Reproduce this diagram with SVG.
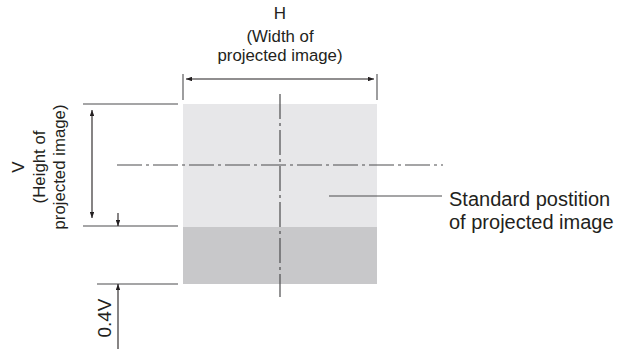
<svg xmlns="http://www.w3.org/2000/svg" width="629" height="349" viewBox="0 0 629 349">
<style>
text{font-family:"Liberation Sans",Arial,sans-serif;fill:#231f20}
.lbl{font-size:16.8px}
.big{font-size:17px}
.rl{font-size:20px}
.ext{stroke:#4d4d4f;stroke-width:1.1;fill:none}
.dim{stroke:#231f20;stroke-width:1.1;fill:none}
.cl{stroke:#4d4d4f;stroke-width:1.2;fill:none;stroke-dasharray:25 4 3 4}
</style>
<defs>
<marker id="ah" viewBox="0 0 8 6" refX="8" refY="3" markerWidth="7" markerHeight="4.5" markerUnits="userSpaceOnUse" orient="auto-start-reverse">
<path d="M0,0 L8,3 L0,6 Z" fill="#231f20"/>
</marker>
</defs>
<g id="image">
<rect x="183" y="104" width="194" height="123" fill="#e7e7e9"/>
<rect x="183" y="227" width="194" height="57" fill="#c8c8ca"/>
</g>
<g id="connectors">
<line class="cl" x1="280" y1="94" x2="280" y2="297"/>
<line class="cl" x1="117" y1="165" x2="443" y2="165"/>
<line class="ext" x1="183" y1="74" x2="183" y2="100"/>
<line class="ext" x1="377" y1="74" x2="377" y2="100"/>
<line class="dim" x1="186" y1="79" x2="374" y2="79" marker-start="url(#ah)" marker-end="url(#ah)"/>
<line class="ext" x1="83" y1="104" x2="178" y2="104"/>
<line class="ext" x1="83" y1="226" x2="178" y2="226"/>
<line class="ext" x1="97" y1="284" x2="178" y2="284"/>
<line class="dim" x1="92" y1="110" x2="92" y2="218" marker-start="url(#ah)" marker-end="url(#ah)"/>
<line class="dim" x1="118" y1="213" x2="118" y2="226" marker-end="url(#ah)"/>
<line class="dim" x1="118" y1="349" x2="118" y2="284" marker-end="url(#ah)"/>
<line class="ext" x1="329" y1="196" x2="442" y2="196"/>
</g>
<g id="label-h">
<text class="big" x="280" y="19" text-anchor="middle">H</text>
<text class="lbl" x="280" y="42" text-anchor="middle">(Width of</text>
<text class="lbl" x="280" y="61" text-anchor="middle">projected image)</text>
</g>
<g id="label-v">
<text class="big" transform="translate(24,167) rotate(-90)" text-anchor="middle">V</text>
<text class="lbl" transform="translate(45,167) rotate(-90)" text-anchor="middle">(Height of</text>
<text class="lbl" transform="translate(65,167) rotate(-90)" text-anchor="middle">projected image)</text>
</g>
<g id="label-04v">
<text class="rl" transform="translate(111,318) rotate(-90)" text-anchor="middle" style="font-size:19px">0.4V</text>
</g>
<g id="label-standard">
<text class="rl" x="449" y="206">Standard postition</text>
<text class="rl" x="449" y="229">of projected image</text>
</g>
</svg>
